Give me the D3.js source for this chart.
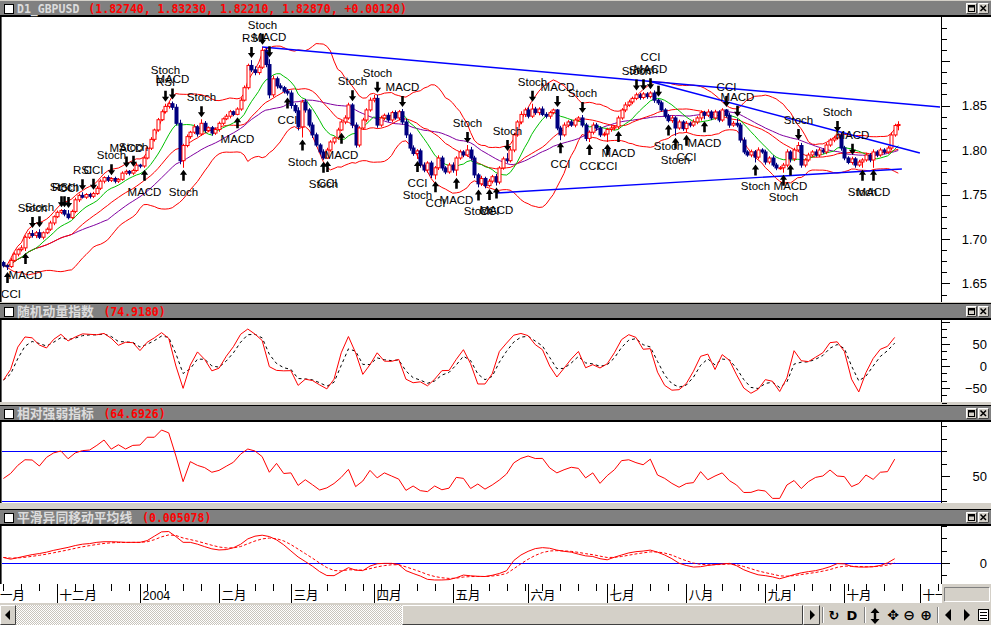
<!DOCTYPE html>
<html>
<head>
<meta charset="utf-8">
<title>D1_GBPUSD</title>
<script src="https://cdn.jsdelivr.net/npm/d3@7/dist/d3.min.js"></script>
<style>
  html, body { margin: 0; padding: 0; background: #d4d0c8; overflow: hidden; }
  svg { display: block; }
  .ax { font-family: 'Liberation Sans', Arial, sans-serif; font-size: 13px; fill: #000; }
  .sig { font-family: 'Liberation Sans', Arial, sans-serif; font-size: 11.5px; fill: #000; }
  .date { font-family: 'Liberation Sans', 'Noto Sans CJK SC', sans-serif; font-size: 12.5px; fill: #000; }
</style>
</head>
<body>
<svg id="chart" width="991" height="625"></svg>
<script>
'use strict';

// daily closes, Mon 10 Nov 2003 .. Fri 22 Oct 2004 (every weekday)
const CLOSES = [
  1.6700, 1.6690, 1.6760, 1.6830, 1.6880, 1.6900, 1.7020, 1.7060, 1.7040, 1.7070,
  1.7020, 1.7070, 1.7110, 1.7180, 1.7250, 1.7300, 1.7320, 1.7280, 1.7240, 1.7310,
  1.7440, 1.7490, 1.7470, 1.7500, 1.7480, 1.7510, 1.7570, 1.7650, 1.7690, 1.7660,
  1.7680, 1.7650, 1.7670, 1.7740, 1.7760, 1.7740, 1.7770, 1.7830, 1.7820, 1.7910,
  1.8020, 1.8120, 1.8225, 1.8340, 1.8430, 1.8490, 1.8520, 1.8480, 1.8300, 1.7880,
  1.8050, 1.8150, 1.8200, 1.8260, 1.8180, 1.8300, 1.8220, 1.8250, 1.8190, 1.8230,
  1.8300, 1.8350, 1.8380, 1.8430, 1.8400, 1.8460, 1.8560, 1.8700, 1.8950, 1.8900,
  1.8870, 1.8930, 1.9120, 1.8960, 1.8620, 1.8800, 1.8720, 1.8700, 1.8660, 1.8640,
  1.8500, 1.8440, 1.8260, 1.8540, 1.8450, 1.8280, 1.8170, 1.8056, 1.7978, 1.7910,
  1.8000, 1.8090, 1.8135, 1.8225, 1.8315, 1.8360, 1.8506, 1.8280, 1.8056, 1.8247,
  1.8337, 1.8450, 1.8560, 1.8580, 1.8280, 1.8360, 1.8390, 1.8337, 1.8420, 1.8360,
  1.8430, 1.8315, 1.8170, 1.8022, 1.7960, 1.7990, 1.7831, 1.7775, 1.7854, 1.7720,
  1.7800, 1.7910, 1.7798, 1.7753, 1.7831, 1.7775, 1.7910, 1.7978, 1.7944, 1.8000,
  1.7910, 1.7720, 1.7620, 1.7680, 1.7600, 1.7650, 1.7700, 1.7640, 1.7798, 1.7900,
  1.7880, 1.8000, 1.8169, 1.8315, 1.8400, 1.8450, 1.8380, 1.8460, 1.8420, 1.8460,
  1.8400, 1.8380, 1.8420, 1.8450, 1.8247, 1.8170, 1.8280, 1.8315, 1.8280, 1.8337,
  1.8360, 1.8280, 1.8130, 1.8200, 1.8280, 1.8247, 1.8170, 1.8180, 1.8230, 1.8247,
  1.8260, 1.8360, 1.8450, 1.8506, 1.8540, 1.8580, 1.8620, 1.8590, 1.8630, 1.8600,
  1.8640, 1.8560, 1.8530, 1.8450, 1.8380, 1.8330, 1.8360, 1.8247, 1.8315, 1.8240,
  1.8300, 1.8280, 1.8315, 1.8360, 1.8420, 1.8390, 1.8427, 1.8360, 1.8427, 1.8337,
  1.8450, 1.8390, 1.8280, 1.8300, 1.8280, 1.8112, 1.7978, 1.7944, 1.7980, 1.7920,
  1.8000, 1.7978, 1.7865, 1.7910, 1.7831, 1.7798, 1.7800, 1.7830, 1.7978, 1.7900,
  1.8000, 1.8050, 1.7831, 1.7888, 1.7944, 1.7978, 1.7944, 1.8000, 1.7978, 1.8056,
  1.8112, 1.8135, 1.8169, 1.8022, 1.7910, 1.7860, 1.7900, 1.7831, 1.7865, 1.7888,
  1.7944, 1.7888, 1.7978, 1.7944, 1.8000, 1.7978, 1.8022, 1.8169, 1.8275, 1.8287
];
const FIRST_OPEN = 1.6735;

// wick length above / below the body, in pips
const UP_WICK = [
  20, 15, 25, 20, 15, 30, 20, 25, 41, 20,  40, 15, 20, 25, 15, 20, 15, 15, 45, 20,
  25, 20, 35, 15, 20, 20, 25, 20, 15, 25,  15, 20, 15, 20, 20, 15, 20, 25, 15, 20,
  20, 25, 15, 20, 25, 30, 20, 25, 35, 40,  20, 25, 15, 30, 20, 45, 25, 15, 20, 25,
  20, 15, 25, 20, 15, 20, 30, 25, 20, 60,  40, 25, 40, 30, 60, 35, 25, 30, 20, 25,
  30, 25, 40, 25, 35, 20, 30, 25, 20, 30,  25, 20, 15, 25, 20, 30, 25, 20, 30, 20,
  25, 20, 30, 38, 40, 25, 20, 30, 20, 25,  20, 30, 35, 25, 30, 20, 25, 30, 20, 25,
  20, 30, 25, 20, 25, 30, 20, 25, 20, 56,  35, 25, 20, 30, 20, 25, 20, 30, 20, 25,
  65, 30, 25, 20, 35, 25, 30, 60, 25, 20,  30, 25, 20, 15, 10, 25, 30, 20, 25, 20,
  20, 33, 25, 20, 30, 25, 20, 25, 20, 30,  20, 25, 20, 30, 25, 20, 25, 20, 20, 20,
  20, 30, 15, 25, 20, 25, 30, 20, 25, 20,  25, 20, 30, 20, 25, 20, 30, 20, 25, 20,
  20, 10, 30, 25, 50, 25, 30, 20, 25, 20,  30, 20, 25, 20, 30, 25, 20, 25, 30, 20,
  25, 40, 30, 20, 25, 20, 30, 25, 20, 25,  20, 25, 11, 30, 25, 20, 25, 20, 25, 20,
  25, 20, 30, 20, 25, 20, 25, 30, 20, 36
];
const DOWN_WICK = [
  20, 38, 15, 20, 25, 20, 35, 20, 25, 30,  20, 25, 15, 20, 25, 15, 20, 25, 20, 15,
  20, 25, 15, 20, 25, 20, 15, 20, 25, 20,  20, 25, 20, 15, 20, 25, 20, 15, 25, 20,
  15, 20, 25, 20, 15, 20, 25, 30, 25, 40,  80, 20, 25, 20, 30, 20, 25, 20, 30, 20,
  25, 20, 15, 25, 20, 10, 20, 15, 20, 25,  30, 25, 20, 30, 40, 25, 30, 20, 25, 28,
  35, 25, 40, 120, 30, 25, 35, 20, 30, 20, 10, 20, 25, 20, 10, 25, 20, 35, 30, 25,
  20, 25, 20, 25, 30, 20, 25, 20, 25, 20,  25, 30, 35, 30, 25, 60, 30, 25, 30, 35,
  50, 25, 30, 25, 20, 30, 65, 20, 25, 20,  30, 35, 40, 25, 30, 15, 25, 40, 25, 20,
  25, 20, 25, 20, 25, 30, 25, 20, 25, 30,  20, 25, 30, 20, 25, 60, 20, 25, 20, 25,
  20, 25, 30, 40, 25, 30, 25, 20, 90, 25,  25, 25, 20, 25, 20, 25, 20, 25, 20, 25,
  20, 30, 25, 20, 25, 20, 25, 87, 20, 25,  45, 25, 20, 25, 30, 45, 20, 25, 20, 25,
  20, 25, 30, 20, 25, 30, 25, 20, 25, 60,  25, 20, 30, 25, 20, 25, 20, 55, 25, 40,
  25, 20, 30, 25, 20, 25, 20, 25, 20, 25,  20, 25, 20, 30, 25, 20, 25, 30, 20, 65,
  20, 25, 88, 25, 20, 25, 20, 25, 20, 54
];

// first weekday of each month (day index) and its axis label
const MONTH_START = [-5, 15, 38, 60, 80, 103, 125, 146, 168, 190, 212, 234, 255];
const MONTH_LABEL = ['十一月', '十二月', '2004', '二月', '三月', '四月', '五月', '六月', '七月', '八月', '九月', '十月', '十一月'];

const PRICE_LABELS = [1.65, 1.70, 1.75, 1.80, 1.85];
const SMI_LABELS = [-50, 0, 50];
const RSI_LABELS = [50];
const RSI_LEVELS = [70, 30];
const MACD_LABELS = [0];

// indicator values read every second day (day 0, 2, ... 248)
const SMI_K = [
  -32, -8, 43, 66, 64, 47.7, 41, 60.6, 72, 57,
  66, 73, 72, 71, 74, 63, 47, 54, 53, 35,
  54, 64, 75.8, 63, 0, -50.8, 2, 32, 15, -11,
  -5, 22, 43.9, 72, 84, 72.5, 58, -1.5, -10, -11,
  -10.6, -44, -30, -33, -43, -52, -30, 30, 67, 30,
  -19, 3, 30, 11, 10.6, 15, -30, -38, -36, -45,
  -30, -10.6, -10, 15, 37.1, 5, -40.9, -40.9, -18, 33,
  52, 70, 74, 69, 48.5, 37, 0, -25, -5, 16,
  33, -4, 3, -4.5, 5, 30, 60, 71.2, 65, 38,
  39.4, -14, -44, -55, -53.8, -40, -12, 22, 27, -8,
  25.8, 13, -20, -50, -62, -53, -31, -34.8, -58, -27,
  34.8, 12, 10, 20, 30, 53, 55, 33, -30, -59,
  -15, 17, 38, 44.7, 65
];
const RSI_14 = [
  48, 52, 58.5, 63, 62.8, 58, 64.9, 68.5, 70, 63.8,
  68.5, 70.3, 70.8, 74.5, 78.8, 71.5, 75, 71.6, 74.5, 74.8,
  81, 81, 86.8, 84.5, 66, 45.5, 61.5, 58.5, 56.7, 53,
  54.5, 57.8, 61, 67.5, 71.6, 70, 65.5, 53, 60.1, 52,
  52.5, 42.5, 47, 43, 38.8, 40.5, 44, 48.9, 55.3, 41.5,
  46, 54.5, 48.5, 52.5, 50, 47.5, 38.5, 42, 38.3, 37.5,
  42, 39, 40.3, 48.9, 48.1, 40, 43.6, 39.5, 42.8, 46.8,
  51.6, 60.5, 64.1, 66, 64, 64.1, 56.5, 52.5, 55, 57,
  56.1, 48.5, 52.5, 44.1, 50.3, 55, 62.3, 63, 60.7, 59,
  63.5, 50.8, 48.1, 44.1, 41, 44, 44.7, 53.5, 47, 50,
  52.5, 46.3, 42.8, 36.8, 36.9, 38.8, 38, 32.1, 32.1, 42.8,
  46.4, 40, 45.5, 48.9, 50, 54.8, 50, 49.5, 41.5, 44,
  50.8, 47.3, 53, 53.5, 63.5
];
// MACD line in units of 0.001
const MACD_LINE = [
  4.5, 3.1, 4.3, 5.6, 6.8, 7.7, 8.8, 10.3, 11.5, 12.7,
  14.2, 15.3, 15.8, 16.8, 17.3, 17.3, 17.1, 16.8, 16.8, 16.8,
  18.2, 21.8, 25.3, 25.6, 21.5, 16.8, 16.8, 15.3, 13.3, 11.5,
  10.6, 10.9, 12.4, 15.2, 19.6, 21.8, 22.6, 21.5, 18.8, 14.8,
  9.8, 4.9, 1.2, -2.6, -7, -10.2, -10.3, -7, -3.8, -5.8,
  -6.2, -2.5, -0.6, -0.3, -0.3, -1.3, -6.2, -8.5, -10.6, -13.3,
  -13.8, -13.8, -13.5, -12, -9.8, -10.4, -10.8, -11, -10, -8.5,
  -6.3, 2, 6.5, 9.5, 11.7, 12.5, 12, 10.5, 9.5, 8.8,
  7.2, 5.8, 5.3, 3.5, 2.6, 4.7, 6.5, 8.2, 9.2, 9.7,
  10.5, 8.8, 6.5, 3.5, -0.2, -2, -3.3, -3, -2, -1.3,
  -0.8, -0.3, -2.2, -5.5, -7.7, -9.6, -10.3, -11.3, -12.8, -11.2,
  -9.4, -8, -7, -6.2, -4.8, -3, -0.5, -0.7, -2.8, -3.3,
  -3.3, -3, -2, 0.1, 3.5
];

// [day, 'dn' above the high | 'up' below the low, labels]
const SIGNALS = [
  [1, 'up', ['CCI']], [6, 'up', ['MACD']], [8, 'dn', ['Stoch']], [10, 'dn', ['Stoch']],
  [16, 'dn', ['RSI']], [17, 'dn', ['Stoch']], [18, 'dn', ['CCI']], [22, 'dn', ['RSI']], [25, 'dn', ['CCI']],
  [30, 'dn', ['Stoch']], [34, 'dn', ['MACD']], [36, 'dn', ['Stoch']], [39, 'up', ['MACD']],
  [45, 'dn', ['RSI', 'Stoch']], [47, 'dn', ['MACD']], [50, 'up', ['Stoch']], [55, 'dn', ['Stoch']],
  [65, 'up', ['MACD']], [69, 'dn', ['RSI']], [72, 'dn', ['Stoch']], [74, 'dn', ['MACD']],
  [79, 'up', ['CCI']], [83, 'up', ['Stoch']], [89, 'up', ['Stoch']], [90, 'up', ['CCI']], [94, 'up', ['MACD']],
  [97, 'dn', ['Stoch']], [104, 'dn', ['Stoch']], [111, 'dn', ['MACD']], [115, 'up', ['CCI', 'Stoch']],
  [120, 'up', ['CCI']], [126, 'up', ['MACD']], [129, 'dn', ['Stoch']], [132, 'up', ['Stoch']], [135, 'up', ['CCI']],
  [137, 'up', ['MACD']], [140, 'dn', ['Stoch']], [147, 'dn', ['Stoch']], [154, 'dn', ['MACD']], [155, 'up', ['CCI']],
  [161, 'dn', ['Stoch']], [163, 'up', ['CCI']], [168, 'up', ['CCI']], [171, 'up', ['MACD']],
  [176, 'dn', ['Stoch']], [178, 'dn', ['Stoch']], [180, 'dn', ['MACD', 'CCI']], [182, 'dn', []],
  [185, 'up', ['Stoch']], [187, 'up', ['Stoch']], [190, 'up', ['CCI']], [195, 'up', ['MACD']],
  [201, 'dn', ['CCI']], [204, 'dn', ['MACD']], [209, 'up', ['Stoch']], [217, 'up', ['Stoch']], [219, 'up', ['MACD']],
  [221, 'dn', ['Stoch']], [232, 'dn', ['Stoch']], [236, 'dn', ['MACD']], [239, 'up', ['Stoch']], [242, 'up', ['MACD']]
];

// hand drawn trend lines: [day, price, day, price]
const TREND_LINES = [
  [72, 1.9157, 260.6, 1.8483],
  [180.5, 1.8764, 255, 1.7966],
  [137.3, 1.7517, 250, 1.7787]
];

const HEADER_NAMES = ['D1_GBPUSD', '随机动量指数', '相对强弱指标', '平滑异同移动平均线'];
const HEADER_VALUES = ['(1.82740, 1.83230, 1.82210, 1.82870, +0.00120)', '(74.9180)', '(64.6926)', '(0.005078)'];

// ---------------------------------------------------------------
const svg = d3.select('#chart');
const defs = svg.append('defs');
const W = 991;
const AXIS_X = 941;

const x = d3.scaleLinear().domain([0, 249]).range([3.4, 898.3]);
const yMain = d3.scaleLinear().domain([1.65, 1.85]).range([283.5, 105.5]);
const ySmi = d3.scaleLinear().domain([-50, 50]).range([388, 344]);
const yRsi = d3.scaleLinear().domain([30, 70]).range([501, 451]);
const yMacd = d3.scaleLinear().domain([0, 10]).range([563, 550.7]);

const PANELS = [
  { id: 'main', top: 17, bottom: 302, header: 0 },
  { id: 'smi', top: 320, bottom: 402, header: 303 },
  { id: 'rsi', top: 422, bottom: 503, header: 405 },
  { id: 'macd', top: 526, bottom: 584, header: 509 }
];

// background
svg.append('rect').attr('width', W).attr('height', 625).attr('fill', '#d4d0c8');

// dither pattern for the scrollbar track
const pat = defs.append('pattern').attr('id', 'dither').attr('width', 2).attr('height', 2)
  .attr('patternUnits', 'userSpaceOnUse');
pat.append('rect').attr('width', 2).attr('height', 2).attr('fill', '#ffffff');
pat.append('rect').attr('width', 1).attr('height', 1).attr('fill', '#c8c4bc');
pat.append('rect').attr('x', 1).attr('y', 1).attr('width', 1).attr('height', 1).attr('fill', '#c8c4bc');

PANELS.forEach(p => {
  svg.append('rect').attr('x', 0).attr('y', p.top).attr('width', W).attr('height', p.bottom - p.top)
    .attr('fill', '#ffffff');
  defs.append('clipPath').attr('id', 'clip-' + p.id).append('rect')
    .attr('x', 2).attr('y', p.top).attr('width', AXIS_X - 2).attr('height', p.bottom - p.top);
  svg.append('rect').attr('x', 0).attr('y', p.top).attr('width', 1.6).attr('height', p.bottom - p.top)
    .attr('fill', '#000');
  svg.append('line').attr('x1', AXIS_X + 0.5).attr('x2', AXIS_X + 0.5)
    .attr('y1', p.top).attr('y2', p.bottom).attr('stroke', '#000');
});

// header bars
function bevel(g, x0, y0, w, h, sunken) {
  g.append('rect').attr('x', x0).attr('y', y0).attr('width', w).attr('height', h).attr('fill', '#d4d0c8');
  g.append('path').attr('d', `M${x0 + 0.5},${y0 + h - 0.5}V${y0 + 0.5}H${x0 + w - 0.5}`)
    .attr('stroke', sunken ? '#808080' : '#ffffff').attr('fill', 'none');
  g.append('path').attr('d', `M${x0 + w - 0.5},${y0 + 0.5}V${y0 + h - 0.5}H${x0 + 0.5}`)
    .attr('stroke', sunken ? '#ffffff' : '#404040').attr('fill', 'none');
}

PANELS.forEach((p, k) => {
  const y0 = p.header;
  const g = svg.append('g');
  if (k > 0) g.append('rect').attr('x', 0).attr('y', y0).attr('width', W).attr('height', 1).attr('fill', '#000');
  g.append('rect').attr('x', 0).attr('y', y0 + 1).attr('width', W).attr('height', 14).attr('fill', '#808080');
  g.append('rect').attr('x', 0).attr('y', y0 + 15).attr('width', W).attr('height', 2).attr('fill', '#000');
  g.append('rect').attr('x', 4.5).attr('y', y0 + 4.5).attr('width', 9).attr('height', 9)
    .attr('fill', '#fff').attr('stroke', '#000');
  const name = HEADER_NAMES[k];
  const ascii = /^[\x00-\x7f]*$/.test(name);
  g.append('text').attr('x', 17).attr('y', y0 + 13)
    .attr('font-family', ascii ? 'DejaVu Sans Mono, monospace' : 'Noto Sans CJK SC, sans-serif')
    .attr('font-weight', 'bold').attr('font-size', ascii ? 11.5 : 12.8)
    .attr('fill', '#dcdcdc').text(name);
  const vx = 17 + name.length * (ascii ? 6.93 : 12.9) + 9;
  g.append('text').attr('x', vx).attr('y', y0 + 13)
    .attr('font-family', 'DejaVu Sans Mono, monospace').attr('font-weight', 'bold').attr('font-size', 11.5)
    .attr('fill', '#ff0000').text(HEADER_VALUES[k]);
  // restore / close buttons
  bevel(g, 966, y0 + 3, 11, 11, false);
  bevel(g, 978, y0 + 3, 11, 11, false);
  g.append('rect').attr('x', 968.5).attr('y', y0 + 5.5).attr('width', 6).attr('height', 6)
    .attr('fill', 'none').attr('stroke', '#000');
  g.append('rect').attr('x', 968.5).attr('y', y0 + 5.5).attr('width', 6).attr('height', 2).attr('fill', '#000');
  g.append('path').attr('d', `M980.5,${y0 + 5.5}L986,${y0 + 11}M986,${y0 + 5.5}L980.5,${y0 + 11}`)
    .attr('stroke', '#000').attr('stroke-width', 1.5);
});

// right axes
function rightAxis(yScale, tickValues, isMajor, labels, fmt) {
  const g = svg.append('g');
  tickValues.forEach(v => {
    const yy = Math.round(yScale(v)) + 0.5;
    g.append('line').attr('x1', AXIS_X + 1).attr('x2', AXIS_X + (isMajor(v) ? 9 : 6))
      .attr('y1', yy).attr('y2', yy).attr('stroke', '#000');
  });
  labels.forEach(v => {
    g.append('text').attr('class', 'ax').attr('x', 987).attr('y', yScale(v) + 4.5)
      .attr('text-anchor', 'end').text(fmt(v));
  });
}
rightAxis(yMain, d3.range(131, 156).map(k => k * 0.0125),
  v => Math.abs(v * 20 - Math.round(v * 20)) < 1e-6, PRICE_LABELS, d3.format('.2f'));
rightAxis(ySmi, d3.range(-5, 7).map(k => k * 50 / 3),
  v => Math.abs(v % 50) < 1e-6, SMI_LABELS, d3.format('d'));
rightAxis(yRsi, d3.range(3, 10).map(k => k * 10), v => v === 50, RSI_LABELS, d3.format('d'));
rightAxis(yMacd, [-10, 0, 10, 20, 30], v => v === 0, MACD_LABELS, d3.format('d'));

// ------------------- main price panel -------------------
const opens = CLOSES.map((c, i) => (i === 0 ? FIRST_OPEN : CLOSES[i - 1]));
const highs = CLOSES.map((c, i) => Math.max(opens[i], c) + UP_WICK[i] / 10000);
const lows = CLOSES.map((c, i) => Math.min(opens[i], c) - DOWN_WICK[i] / 10000);

const windowed = (n, f) => CLOSES.map((_, i) => f(CLOSES.slice(Math.max(0, i - n + 1), i + 1)));
const ma10 = windowed(10, w => d3.mean(w));
const ma20 = windowed(20, w => d3.mean(w));
const ma30 = windowed(30, w => d3.mean(w));
const sd20 = windowed(20, w => { const m = d3.mean(w); return Math.sqrt(d3.mean(w, v => (v - m) ** 2)); });
const bandUp = ma20.map((m, i) => m + 2 * sd20[i]);
const bandDn = ma20.map((m, i) => m - 2 * sd20[i]);

const gMain = svg.append('g').attr('clip-path', 'url(#clip-main)');
const priceLine = d3.line().x((d, i) => x(i)).y(d => yMain(d));
[[bandUp, '#ff0000'], [bandDn, '#ff0000'], [ma30, '#8000a0'], [ma20, '#ff0000'], [ma10, '#00c000']]
  .forEach(([arr, col]) => {
    gMain.append('path').attr('d', priceLine(arr)).attr('fill', 'none')
      .attr('stroke', col).attr('stroke-width', 1);
  });

const candles = CLOSES.map((c, i) => ({ i, o: opens[i], c, h: highs[i], l: lows[i] }));
const gc = gMain.append('g').selectAll('g').data(candles).join('g');
gc.each(function (d) {
  const g = d3.select(this);
  const cx = Math.round(x(d.i)) + 0.5;
  const up = d.c >= d.o;
  const col = up ? '#ff0000' : '#000080';
  g.append('line').attr('x1', cx).attr('x2', cx).attr('y1', yMain(d.h)).attr('y2', yMain(d.l))
    .attr('stroke', col);
  const yt = yMain(Math.max(d.o, d.c));
  const yb = yMain(Math.min(d.o, d.c));
  g.append('rect').attr('x', cx - 1.5).attr('y', yt).attr('width', 3).attr('height', Math.max(1, yb - yt))
    .attr('fill', up ? '#ffffff' : '#000080').attr('stroke', col);
});

TREND_LINES.forEach(([i1, p1, i2, p2]) => {
  gMain.append('line').attr('x1', x(i1)).attr('y1', yMain(p1)).attr('x2', x(i2)).attr('y2', yMain(p2))
    .attr('stroke', '#0000ff').attr('stroke-width', 1.4);
});

const gSig = gMain.append('g');
SIGNALS.forEach(([i, dir, labels]) => {
  const cx = Math.round(x(i)) + 0.5;
  const lx = Math.max(cx, 11);
  if (dir === 'dn') {
    const tip = yMain(highs[i]) - 2;
    const top = tip - 11;
    gSig.append('path')
      .attr('d', `M${cx - 1.3},${top}H${cx + 1.3}V${top + 6}H${cx + 3.6}L${cx},${tip}L${cx - 3.6},${top + 6}H${cx - 1.3}Z`)
      .attr('fill', '#000');
    labels.forEach((t, k) => {
      gSig.append('text').attr('class', 'sig').attr('x', lx).attr('y', top - 5 - 12 * k)
        .attr('text-anchor', 'middle').text(t);
    });
  } else {
    const tip = yMain(lows[i]) + 2;
    const bottom = tip + 11;
    gSig.append('path')
      .attr('d', `M${cx},${tip}L${cx + 3.6},${tip + 5}H${cx + 1.3}V${bottom}H${cx - 1.3}V${tip + 5}H${cx - 3.6}Z`)
      .attr('fill', '#000');
    labels.forEach((t, k) => {
      gSig.append('text').attr('class', 'sig').attr('x', lx).attr('y', bottom + 15 + 12 * k)
        .attr('text-anchor', 'middle').text(t);
    });
  }
});

// ------------------- indicator panels -------------------
const ema = (arr, n) => { const k = 2 / (n + 1); let p = arr[0]; return arr.map((v, j) => (p = j ? p + k * (v - p) : v)); };
const lineOn = yScale => d3.line().x((d, j) => x(j * 2)).y(d => yScale(d));

// stochastic momentum index, signal = short EMA of %K (two-day grid)
const smiSignal = ema(SMI_K, 2.5);
const gSmi = svg.append('g').attr('clip-path', 'url(#clip-smi)');
gSmi.append('path').attr('d', lineOn(ySmi)(smiSignal)).attr('fill', 'none')
  .attr('stroke', '#000').attr('stroke-dasharray', '3,3');
gSmi.append('path').attr('d', lineOn(ySmi)(SMI_K)).attr('fill', 'none').attr('stroke', '#ff0000');

// RSI
const gRsi = svg.append('g').attr('clip-path', 'url(#clip-rsi)');
RSI_LEVELS.forEach(v => {
  gRsi.append('line').attr('x1', 2).attr('x2', AXIS_X).attr('y1', Math.round(yRsi(v)) + 0.5)
    .attr('y2', Math.round(yRsi(v)) + 0.5).attr('stroke', '#0000ff').attr('stroke-width', 1);
});
gRsi.append('path').attr('d', lineOn(yRsi)(RSI_14)).attr('fill', 'none').attr('stroke', '#ff0000');

// MACD, signal = 9 day EMA of the MACD line (two-day grid)
const macdSignal = ema(MACD_LINE, 4.5);
const gMacd = svg.append('g').attr('clip-path', 'url(#clip-macd)');
gMacd.append('line').attr('x1', 2).attr('x2', AXIS_X).attr('y1', Math.round(yMacd(0)) + 0.5)
  .attr('y2', Math.round(yMacd(0)) + 0.5).attr('stroke', '#0000ff').attr('stroke-width', 1);
gMacd.append('path').attr('d', lineOn(yMacd)(macdSignal)).attr('fill', 'none')
  .attr('stroke', '#ff0000').attr('stroke-dasharray', '3,2');
gMacd.append('path').attr('d', lineOn(yMacd)(MACD_LINE)).attr('fill', 'none').attr('stroke', '#ff0000');

// ------------------- date axis -------------------
svg.append('rect').attr('x', 0).attr('y', 584).attr('width', AXIS_X + 1).attr('height', 19).attr('fill', '#fff');
defs.append('clipPath').attr('id', 'clip-date').append('rect')
  .attr('x', 0).attr('y', 584).attr('width', AXIS_X + 1).attr('height', 19);
const gDate = svg.append('g').attr('clip-path', 'url(#clip-date)');
d3.range(-5, 262, 5).filter(i => !MONTH_START.includes(i)).forEach(i => {
  const xx = Math.round(x(i)) + 0.5;
  gDate.append('line').attr('x1', xx).attr('x2', xx).attr('y1', 584).attr('y2', 591).attr('stroke', '#000');
});
MONTH_START.forEach((i, k) => {
  const xx = Math.round(x(i)) + 0.5;
  gDate.append('line').attr('x1', xx).attr('x2', xx).attr('y1', 584).attr('y2', 603).attr('stroke', '#000');
  gDate.append('text').attr('class', 'date').attr('x', xx + 2).attr('y', 600).text(MONTH_LABEL[k]);
});
bevel(svg.append('g'), 944, 587, 46, 15, true);

// ------------------- scroll bar and toolbar -------------------
const sb = svg.append('g');
sb.append('rect').attr('x', 16).attr('y', 605).attr('width', 386).attr('height', 20).attr('fill', 'url(#dither)');
bevel(sb, 0, 605, 16, 20, false);
bevel(sb, 402, 605, 401, 20, false);
bevel(sb, 803, 605, 17, 20, false);
sb.append('path').attr('d', 'M5,615L10,610V620Z').attr('fill', '#000');
sb.append('path').attr('d', 'M815,615L810,610V620Z').attr('fill', '#000');
[822, 864, 937].forEach(xx => {
  sb.append('line').attr('x1', xx + 0.5).attr('x2', xx + 0.5).attr('y1', 607).attr('y2', 623).attr('stroke', '#808080');
  sb.append('line').attr('x1', xx + 1.5).attr('x2', xx + 1.5).attr('y1', 607).attr('y2', 623).attr('stroke', '#fff');
});
const icon = (xx, t, size) => sb.append('text').attr('x', xx).attr('y', 620).attr('text-anchor', 'middle')
  .attr('font-family', 'DejaVu Sans, sans-serif').attr('font-weight', 'bold').attr('font-size', size).text(t);
icon(834, '\u21BB', 13);
icon(852, 'D', 13);
sb.append('path').attr('d', 'M875,608L879.5,613H870.5Z M873.8,613H876.2V619H873.8Z M870.5,619H879.5L875,624Z')
  .attr('fill', '#000');
icon(893, '\u2725', 14);
icon(909, '\u2296', 14);
icon(926, '\u2295', 14);
sb.append('path').attr('d', 'M945,615L951,609V621Z').attr('fill', '#000');
sb.append('path').attr('d', 'M970,615L964,609V621Z').attr('fill', '#000');
sb.append('rect').attr('x', 978.5).attr('y', 609.5).attr('width', 10).attr('height', 11)
  .attr('fill', '#fff').attr('stroke', '#000');
[612.5, 615.5, 618.5].forEach(yy => {
  sb.append('line').attr('x1', 980).attr('x2', 987).attr('y1', yy).attr('y2', yy).attr('stroke', '#000');
});
</script>
</body>
</html>
